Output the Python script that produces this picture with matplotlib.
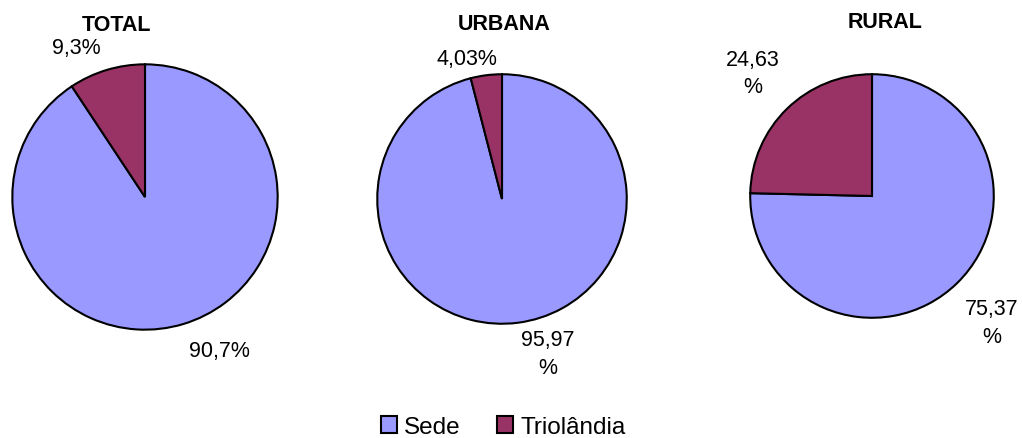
import matplotlib.pyplot as plt
from matplotlib.patches import Patch

plt.rcParams['font.family'] = ['Liberation Sans', 'DejaVu Sans']

# Dados: participação da Sede e de Triolândia
titulos = ['TOTAL', 'URBANA', 'RURAL']
categorias = ['Sede', 'Triolândia']
sede = [90.7, 95.97, 75.37]
triolandia = [9.3, 4.03, 24.63]
rotulos_sede = ['90,7%', '95,97\n%', '75,37\n%']
rotulos_triolandia = ['9,3%', '4,03%', '24,63\n%']

cores = ['#9999FF', '#993366']

W, H = 1022, 439
fig = plt.figure(figsize=(W / 100, H / 100), dpi=100)

# centro (px) e raio (px) de cada pizza
pizzas = [(145, 198, 134), (502, 200, 126), (872, 197, 123)]
# posição dos rótulos em unidades de raio: (Sede, Triolândia)
pos_rotulos = [((0.56, -1.16), (-0.52, 1.13)),
               ((0.37, -1.24), (-0.28, 1.13)),
               ((0.98, -1.04), (-0.98, 1.01))]
pos_titulo = [(117, 25.5), (504, 25), (885, 22.5)]

for i, (cx, cy, r) in enumerate(pizzas):
    ax = fig.add_axes([(cx - r) / W, (H - cy - r) / H, 2 * r / W, 2 * r / H])
    ax.pie([sede[i], triolandia[i]], colors=cores, startangle=90,
           counterclock=False, radius=1,
           wedgeprops=dict(edgecolor='black', linewidth=1.5))
    ax.set_xlim(-1.01, 1.01)
    ax.set_ylim(-1.01, 1.01)
    ax.axis('off')
    (sx, sy), (tx, ty) = pos_rotulos[i]
    ax.text(sx, sy, rotulos_sede[i], ha='center', va='center',
            fontsize=15.5, linespacing=1.4)
    ax.text(tx, ty, rotulos_triolandia[i], ha='center', va='center',
            fontsize=15.5, linespacing=1.4)
    fig.text(pos_titulo[i][0] / W, 1 - pos_titulo[i][1] / H, titulos[i],
             ha='center', va='center', fontsize=15.5, fontweight='bold')

handles = [Patch(facecolor=c, edgecolor='black', linewidth=1.5) for c in cores]
fig.legend(handles, categorias, loc='center', bbox_to_anchor=(503.5 / W, 1 - 428 / H),
           ncol=2, frameon=False, fontsize=17.5, handlelength=0.65,
           handleheight=0.65, handletextpad=0.3, columnspacing=1.5,
           borderpad=0.1)

fig.savefig('out.png', dpi=100)
